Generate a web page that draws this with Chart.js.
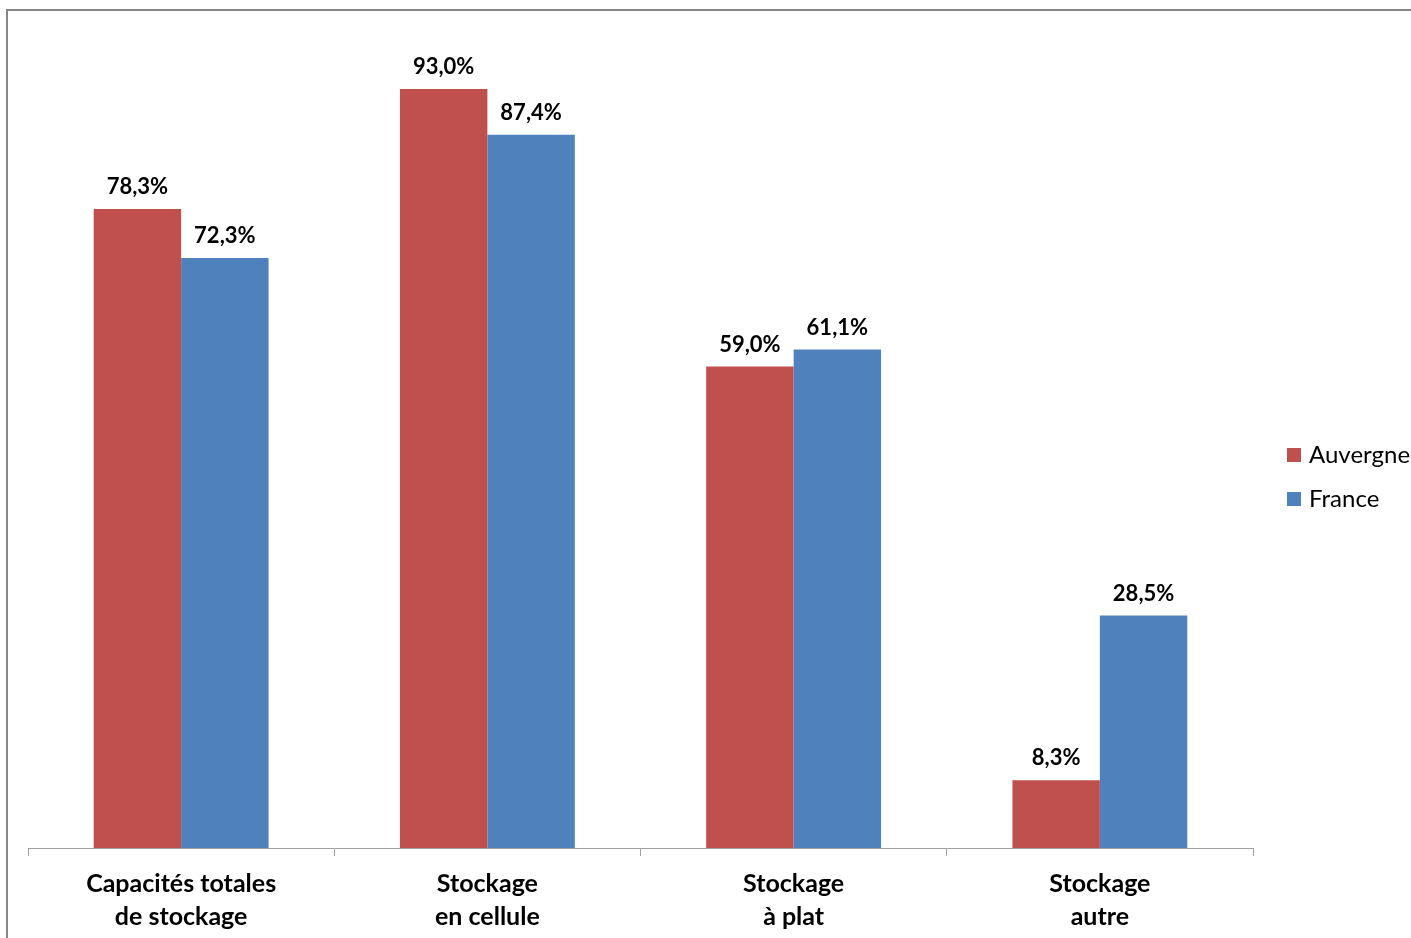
<!DOCTYPE html>
<html>
<head>
<meta charset="utf-8">
<script src="https://cdn.jsdelivr.net/npm/chart.js@4.4.0/dist/chart.umd.min.js"></script>
<style>
    html, body { margin: 0; padding: 0; background: #fff; overflow: hidden; }
    #wrap { position: absolute; left: 0; top: 0; width: 1411px; height: 938px; }
</style>
</head>
<body>
<div id="wrap"><canvas id="storageChart"></canvas></div>
<script>
const categories = [
    ['Capacités totales', 'de stockage'],
    ['Stockage', 'en cellule'],
    ['Stockage', 'à plat'],
    ['Stockage', 'autre']
];
const seriesNames = ['Auvergne', 'France'];
const auvergneValues = [78.3, 93.0, 59.0, 8.3];
const franceValues = [72.3, 87.4, 61.1, 28.5];
const colors = ['#C0504D', '#4F81BD'];

const FONT = 'Lato, "DejaVu Sans", sans-serif';

const formatPct = v => v.toFixed(1).replace('.', ',') + '%';

// outer frame, cut off on the right and bottom like the original
const framePlugin = {
    id: 'frame',
    beforeDraw(chart) {
        const ctx = chart.ctx;
        ctx.save();
        ctx.strokeStyle = '#868686';
        ctx.lineWidth = 2;
        ctx.strokeRect(7, 10, chart.width + 20, chart.height + 20);
        ctx.restore();
    }
};

// value labels above each bar
const valueLabels = {
    id: 'valueLabels',
    afterDatasetsDraw(chart) {
        const ctx = chart.ctx;
        ctx.save();
        ctx.font = 'bold 22px ' + FONT;
        ctx.fillStyle = '#000';
        ctx.textAlign = 'center';
        ctx.textBaseline = 'middle';
        chart.data.datasets.forEach((ds, i) => {
            chart.getDatasetMeta(i).data.forEach((bar, j) => {
                ctx.fillText(formatPct(ds.data[j]), bar.x, bar.y - 22);
            });
        });
        ctx.restore();
    }
};

// legend on the right, drawn from the datasets
const sideLegend = {
    id: 'sideLegend',
    afterDraw(chart) {
        const ctx = chart.ctx;
        ctx.save();
        ctx.font = '24px ' + FONT;
        ctx.textBaseline = 'middle';
        chart.data.datasets.forEach((ds, i) => {
            const y = 455 + i * 44;
            ctx.fillStyle = ds.backgroundColor;
            ctx.fillRect(1287, y - 7, 14, 14);
            ctx.fillStyle = '#000';
            ctx.fillText(ds.label, 1309, y);
        });
        ctx.restore();
    }
};

const ctx = document.getElementById('storageChart').getContext('2d');
new Chart(ctx, {
    type: 'bar',
    data: {
        labels: categories,
        datasets: [
            { label: seriesNames[0], data: auvergneValues, backgroundColor: colors[0] },
            { label: seriesNames[1], data: franceValues, backgroundColor: colors[1] }
        ]
    },
    options: {
        responsive: true,
        maintainAspectRatio: false,
        animation: false,
        categoryPercentage: 0.571,
        barPercentage: 1,
        layout: { padding: { left: 28, right: 158, top: 32, bottom: -6 } },
        plugins: {
            legend: { display: false },
            tooltip: { enabled: false }
        },
        scales: {
            x: {
                grid: {
                    offset: true,
                    drawOnChartArea: false,
                    drawTicks: true,
                    tickLength: 8,
                    color: '#A0A0A0'
                },
                border: { display: true, color: '#A0A0A0', width: 1 },
                ticks: {
                    color: '#000',
                    padding: 11,
                    font: { family: FONT, size: 25, weight: 'bold', lineHeight: 1.32 },
                    maxRotation: 0
                }
            },
            y: {
                display: false,
                min: 0,
                max: 100
            }
        }
    },
    plugins: [framePlugin, valueLabels, sideLegend]
});
</script>
</body>
</html>
